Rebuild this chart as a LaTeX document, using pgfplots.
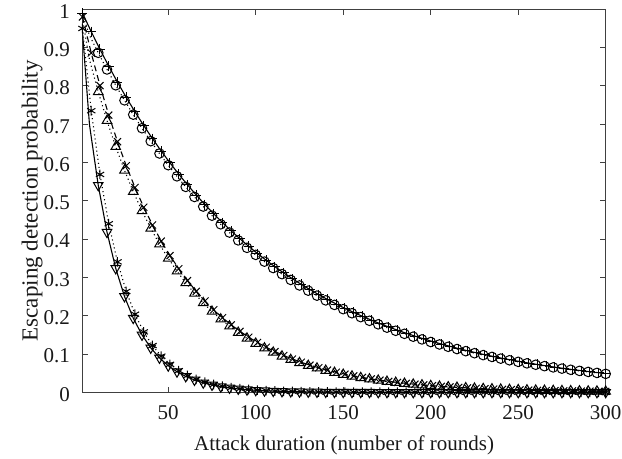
\documentclass[border=0pt]{standalone}
\usepackage{fontspec}
\setmainfont{Liberation Serif}
\usepackage{pgfplots}
\pgfplotsset{compat=1.18}
\begin{document}
\begin{tikzpicture}
\begin{axis}[
  scale only axis,
  width=523.2bp, height=383bp,
  xmin=1, xmax=300, ymin=0, ymax=1,
  xtick={50,100,150,200,250,300},
  ytick={0,0.1,0.2,0.3,0.4,0.5,0.6,0.7,0.8,0.9,1},
  yticklabels={0,0.1,0.2,0.3,0.4,0.5,0.6,0.7,0.8,0.9,1},
  /pgf/number format/assume math mode=true,
  tick align=inside, tick pos=both,
  major tick length=5.5bp,
  every tick/.style={black!75, line width=0.8bp},
  axis line style={black!75, line width=1bp},
  tick label style={font=\fontsize{21bp}{24bp}\selectfont, text=black!90},
  label style={text=black!90},
  xticklabel style={anchor=north, inner sep=0pt, yshift=-12.7bp},
  yticklabel style={anchor=east, inner sep=0pt, xshift=-12.5bp, yshift=-2bp},
  xlabel={Attack duration (number of rounds)},
  ylabel={Escaping detection probability},
  xlabel style={font=\fontsize{21bp}{24bp}\selectfont, at={(axis description cs:0.5,-0.1128)}, anchor=north, inner sep=0pt},
  ylabel style={font=\fontsize{23bp}{26bp}\selectfont, at={(axis description cs:-0.0757,0.5)}, anchor=south, inner sep=0pt},
  every axis plot/.append style={black, line width=1.1bp},
]
% plus, solid
\addplot[mark=+, mark size=5bp, mark options={solid, line width=1bp}] coordinates {
(1,0.9900) (6,0.9415) (11,0.8953) (16,0.8515) (21,0.8097) (26,0.7700) (31,0.7323) (36,0.6964) (41,0.6623) (46,0.6298) (51,0.5990) (56,0.5696) (61,0.5417) (66,0.5151) (71,0.4899) (76,0.4659) (81,0.4431) (86,0.4213) (91,0.4007) (96,0.3811) (101,0.3624) (106,0.3446) (111,0.3277) (116,0.3117) (121,0.2964) (126,0.2819) (131,0.2681) (136,0.2549) (141,0.2424) (146,0.2305) (151,0.2192) (156,0.2085) (161,0.1983) (166,0.1886) (171,0.1793) (176,0.1705) (181,0.1622) (186,0.1542) (191,0.1467) (196,0.1395) (201,0.1326) (206,0.1261) (211,0.1200) (216,0.1141) (221,0.1085) (226,0.1032) (231,0.0981) (236,0.0933) (241,0.0887) (246,0.0844) (251,0.0803) (256,0.0763) (261,0.0726) (266,0.0690) (271,0.0656) (276,0.0624) (281,0.0594) (286,0.0565) (291,0.0537) (296,0.0511) (300,0.0490)
};
% circles, dotted
\addplot[dash pattern=on 1.1bp off 3bp, mark=o, mark size=4.8bp, mark phase=2, mark options={solid, line width=1bp}] coordinates {
(0,1.0000) (5,0.9321) (10,0.8864) (15,0.8429) (20,0.8016) (25,0.7623) (30,0.7250) (35,0.6895) (40,0.6557) (45,0.6235) (50,0.5930) (55,0.5639) (60,0.5363) (65,0.5100) (70,0.4850) (75,0.4612) (80,0.4386) (85,0.4171) (90,0.3967) (95,0.3772) (100,0.3588) (105,0.3412) (110,0.3244) (115,0.3085) (120,0.2934) (125,0.2790) (130,0.2654) (135,0.2524) (140,0.2400) (145,0.2282) (150,0.2171) (155,0.2064) (160,0.1963) (165,0.1867) (170,0.1775) (175,0.1688) (180,0.1606) (185,0.1527) (190,0.1452) (195,0.1381) (200,0.1313) (205,0.1249) (210,0.1188) (215,0.1129) (220,0.1074) (225,0.1021) (230,0.0971) (235,0.0924) (240,0.0879) (245,0.0836) (250,0.0795) (255,0.0756) (260,0.0719) (265,0.0683) (270,0.0650) (275,0.0618) (280,0.0588) (285,0.0559) (290,0.0532) (295,0.0506) (300,0.0481)
};
% x marks, dashed
\addplot[dash pattern=on 6bp off 4bp, mark=x, mark size=5bp, mark options={solid, line width=1bp}] coordinates {
(1,0.9800) (6,0.8858) (11,0.8007) (16,0.7238) (21,0.6543) (26,0.5914) (31,0.5346) (36,0.4832) (41,0.4368) (46,0.3948) (51,0.3569) (56,0.3226) (61,0.2916) (66,0.2636) (71,0.2383) (76,0.2154) (81,0.1947) (86,0.1760) (91,0.1591) (96,0.1438) (101,0.1300) (106,0.1175) (111,0.1062) (116,0.0960) (121,0.0868) (126,0.0784) (131,0.0709) (136,0.0641) (141,0.0579) (146,0.0524) (151,0.0473) (156,0.0428) (161,0.0387) (166,0.0350) (171,0.0316) (176,0.0286) (181,0.0258) (186,0.0233) (191,0.0211) (196,0.0191) (201,0.0172) (206,0.0156) (211,0.0141) (216,0.0127) (221,0.0115) (226,0.0104) (231,0.0094) (236,0.0085) (241,0.0077) (246,0.0070) (251,0.0063) (256,0.0057) (261,0.0051) (266,0.0046) (271,0.0042) (276,0.0038) (281,0.0034) (286,0.0031) (291,0.0028) (296,0.0025) (300,0.0023)
};
% triangles, dotted
\addplot[dash pattern=on 1.1bp off 3bp, mark=triangle, mark size=5.5bp, mark phase=2, mark options={solid, line width=1bp}] coordinates {
(0,1.0000) (5,0.8681) (10,0.7847) (15,0.7093) (20,0.6412) (25,0.5796) (30,0.5239) (35,0.4736) (40,0.4281) (45,0.3869) (50,0.3498) (55,0.3162) (60,0.2858) (65,0.2583) (70,0.2335) (75,0.2111) (80,0.1908) (85,0.1725) (90,0.1559) (95,0.1409) (100,0.1274) (105,0.1151) (110,0.1041) (115,0.0941) (120,0.0850) (125,0.0769) (130,0.0695) (135,0.0628) (140,0.0568) (145,0.0513) (150,0.0464) (155,0.0419) (160,0.0379) (165,0.0343) (170,0.0310) (175,0.0280) (180,0.0253) (185,0.0229) (190,0.0207) (195,0.0187) (200,0.0169) (205,0.0153) (210,0.0138) (215,0.0125) (220,0.0113) (225,0.0102) (230,0.0092) (235,0.0083) (240,0.0075) (245,0.0068) (250,0.0062) (255,0.0056) (260,0.0050) (265,0.0045) (270,0.0041) (275,0.0037) (280,0.0034) (285,0.0030) (290,0.0027) (295,0.0025) (300,0.0022)
};
% down triangles, solid
\addplot[mark=triangle, mark size=5.5bp, mark phase=2, mark options={solid, rotate=180, line width=1bp}] coordinates {
(0,1.0000) (5,0.6983) (10,0.5404) (15,0.4181) (20,0.3235) (25,0.2503) (30,0.1937) (35,0.1499) (40,0.1160) (45,0.0898) (50,0.0694) (55,0.0537) (60,0.0416) (65,0.0322) (70,0.0249) (75,0.0193) (80,0.0149) (85,0.0115) (90,0.0089) (95,0.0069) (100,0.0053) (105,0.0041) (110,0.0032) (115,0.0025) (120,0.0019) (125,0.0015) (130,0.0012) (135,0.0009) (140,0.0007) (145,0.0005) (150,0.0004) (155,0.0003) (160,0.0002) (165,0.0002) (170,0.0001) (175,0.0001) (180,0.0001) (185,0.0001) (190,0.0000) (195,0.0000) (200,0.0000) (205,0.0000) (210,0.0000) (215,0.0000) (220,0.0000) (225,0.0000) (230,0.0000) (235,0.0000) (240,0.0000) (245,0.0000) (250,0.0000) (255,0.0000) (260,0.0000) (265,0.0000) (270,0.0000) (275,0.0000) (280,0.0000) (285,0.0000) (290,0.0000) (295,0.0000) (300,0.0000)
};
% asterisks, dotted
\addplot[dash pattern=on 1.1bp off 3bp, mark=asterisk, mark size=4.8bp, mark options={solid, line width=1bp}] coordinates {
(1,0.9500) (6,0.7351) (11,0.5688) (16,0.4401) (21,0.3406) (26,0.2635) (31,0.2039) (36,0.1578) (41,0.1221) (46,0.0945) (51,0.0731) (56,0.0566) (61,0.0438) (66,0.0339) (71,0.0262) (76,0.0203) (81,0.0157) (86,0.0121) (91,0.0094) (96,0.0073) (101,0.0056) (106,0.0044) (111,0.0034) (116,0.0026) (121,0.0020) (126,0.0016) (131,0.0012) (136,0.0009) (141,0.0007) (146,0.0006) (151,0.0004) (156,0.0003) (161,0.0003) (166,0.0002) (171,0.0002) (176,0.0001) (181,0.0001) (186,0.0001) (191,0.0001) (196,0.0000) (201,0.0000) (206,0.0000) (211,0.0000) (216,0.0000) (221,0.0000) (226,0.0000) (231,0.0000) (236,0.0000) (241,0.0000) (246,0.0000) (251,0.0000) (256,0.0000) (261,0.0000) (266,0.0000) (271,0.0000) (276,0.0000) (281,0.0000) (286,0.0000) (291,0.0000) (296,0.0000) (300,0.0000)
};
\end{axis}
\path (current axis.south west) +(-82.5bp,-66.7bp);
\path (current axis.north east) +(16.3bp,9.3bp);
\end{tikzpicture}
\end{document}
